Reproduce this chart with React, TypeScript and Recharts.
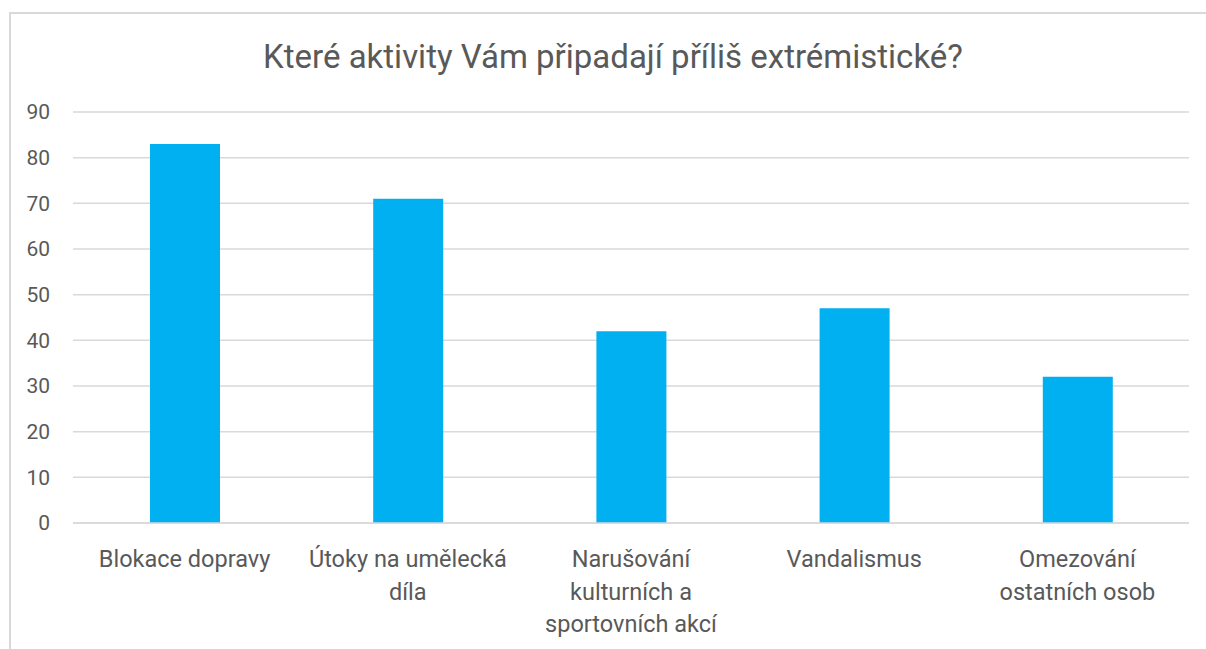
import React from "react";
import { BarChart, Bar, XAxis, YAxis, CartesianGrid } from "recharts";

const categories = [
  "Blokace dopravy",
  "Útoky na umělecká díla",
  "Narušování kulturních a sportovních akcí",
  "Vandalismus",
  "Omezování ostatních osob",
];
const categoryLines: string[][] = [
  ["Blokace dopravy"],
  ["Útoky na umělecká", "díla"],
  ["Narušování", "kulturních a", "sportovních akcí"],
  ["Vandalismus"],
  ["Omezování", "ostatních osob"],
];
const values = [83, 71, 42, 47, 32];
const yTicks = [0, 10, 20, 30, 40, 50, 60, 70, 80, 90];
const title = "Které aktivity Vám připadají příliš extrémistické?";

const data = categories.map((c, i) => ({ name: c, value: values[i], idx: i }));

const FONT = "Roboto, 'Open Sans', sans-serif";
const TEXT = "#595959";

const CatTick = (props: any) => {
  const { x, y, index } = props;
  const lines = categoryLines[index] || [];
  return (
    <text x={x} y={y} textAnchor="middle" fill={TEXT} fontFamily={FONT} fontSize={23.5}>
      {lines.map((l, i) => (
        <tspan key={i} x={x} y={y + 36 + i * 32.5}>
          {l}
        </tspan>
      ))}
    </text>
  );
};

export default function App() {
  return (
    <div style={{ position: "absolute", left: 0, top: 0, width: 1206, height: 649, overflow: "hidden", background: "#fff" }}>
      <div
        style={{
          position: "absolute",
          left: 9,
          top: 12,
          width: 1210,
          height: 700,
          border: "2px solid #d9d9d9",
          boxSizing: "border-box",
        }}
      />
      <div
        style={{
          position: "absolute",
          left: 0,
          top: 37,
          width: 1226,
          textAlign: "center",
          fontFamily: FONT,
          fontSize: 33,
          color: TEXT,
          lineHeight: "40px",
        }}
      >
        {title}
      </div>
      <div style={{ position: "absolute", left: 0, top: 0 }}>
        <BarChart
          width={1206}
          height={649}
          data={data}
          margin={{ top: 112, right: 17, bottom: 0, left: 23 }}
          barCategoryGap={0}
        >
          <CartesianGrid vertical={false} stroke="#d9d9d9" strokeWidth={1.5} />
          <XAxis
            dataKey="name"
            axisLine={{ stroke: "#d9d9d9", strokeWidth: 1.5 }}
            tickLine={false}
            tick={<CatTick />}
            interval={0}
            height={126}
          />
          <YAxis
            domain={[0, 90]}
            ticks={yTicks}
            axisLine={false}
            tickLine={false}
            width={50}
            tick={{ fill: TEXT, fontFamily: FONT, fontSize: 21 }}
            tickMargin={17}
          />
          <Bar dataKey="value" fill="#00B0F0" barSize={70} isAnimationActive={false} />
        </BarChart>
      </div>
    </div>
  );
}
